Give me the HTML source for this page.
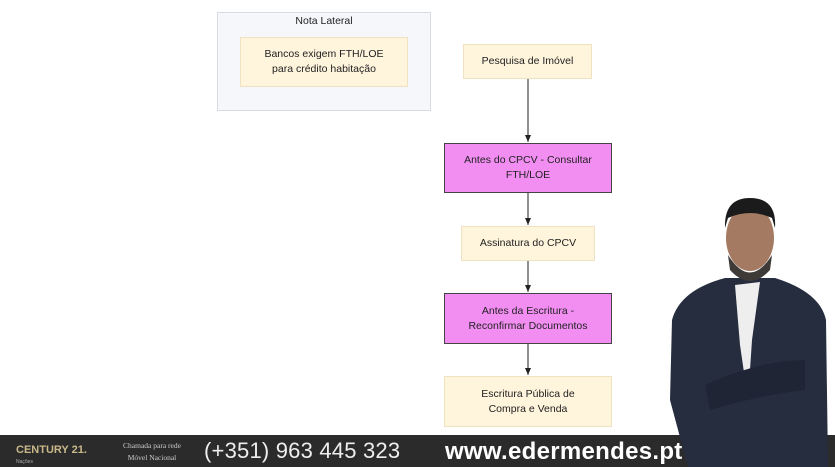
<!DOCTYPE html>
<html><head><meta charset="utf-8"><style>
body{margin:0;width:835px;height:467px;overflow:hidden;background:#fff;position:relative;font-family:"Liberation Sans",sans-serif}
.b{position:absolute;box-sizing:border-box;display:flex;align-items:center;justify-content:center;text-align:center;font-size:10.5px;color:#222;line-height:15px}
.y{background:#fff4dc;border:1px solid #f0e2c0}
.m{background:#f28ef2;border:1.5px solid #444}
</style></head><body>
<div class="b" style="left:217px;top:12px;width:214px;height:99px;background:#f6f7fb;border:1px solid #d8dbe4;align-items:flex-start;padding-top:1px">Nota Lateral</div>
<div class="b y" style="left:240px;top:37px;width:168px;height:50px">Bancos exigem FTH/LOE<br>para crédito habitação</div>
<div class="b y" style="left:463px;top:44px;width:129px;height:35px">Pesquisa de Imóvel</div>
<div class="b m" style="left:444px;top:143px;width:168px;height:50px">Antes do CPCV - Consultar<br>FTH/LOE</div>
<div class="b y" style="left:461px;top:226px;width:134px;height:35px">Assinatura do CPCV</div>
<div class="b m" style="left:444px;top:293px;width:168px;height:51px">Antes da Escritura -<br>Reconfirmar Documentos</div>
<div class="b y" style="left:444px;top:376px;width:168px;height:51px">Escritura Pública de<br>Compra e Venda</div>
<svg style="position:absolute;left:0;top:0" width="835" height="467">
<defs><marker id="a" markerWidth="8" markerHeight="8" refX="7" refY="4" orient="auto"><path d="M0,1 L7,4 L0,7z" fill="#222"/></marker></defs>
<g stroke="#222" stroke-width="1" marker-end="url(#a)">
<line x1="528" y1="79" x2="528" y2="142"/><line x1="528" y1="193" x2="528" y2="225"/>
<line x1="528" y1="261" x2="528" y2="292"/><line x1="528" y1="344" x2="528" y2="375"/></g>
<rect x="0" y="435" width="835" height="32" fill="#2b2b2b"/>
<text x="16" y="453" fill="#c9b98a" font-size="11" font-weight="bold">CENTURY 21.</text>
<text x="16" y="463" fill="#aaa" font-size="5">Nações</text>
<text x="152" y="448" fill="#ccc" font-size="7.5" text-anchor="middle" font-family="Liberation Serif">Chamada para rede</text>
<text x="152" y="460" fill="#ccc" font-size="7.5" text-anchor="middle" font-family="Liberation Serif">Móvel Nacional</text>
<text x="204" y="458" fill="#eee" font-size="22" letter-spacing="0.2">(+351) 963 445 323</text>
<path d="M688,467 L670,400 L672,320 Q680,290 725,278 L775,278 Q820,292 826,320 L828,467z" fill="#262d3f"/>
<path d="M735,285 L760,282 L752,340 L748,400 L740,345z" fill="#eeeeee"/>
<path d="M705,385 Q760,360 805,360 L805,390 Q760,395 710,410z" fill="#1f2535"/>
<ellipse cx="750" cy="238" rx="24" ry="33" fill="#a47a62"/>
<path d="M725,228 Q724,198 750,198 Q777,198 775,228 L772,218 Q750,208 728,218z" fill="#1b1b1b"/>
<path d="M728,255 Q750,290 772,255 L770,270 Q750,292 730,270z" fill="#3d3a38"/>
<text x="445" y="459" fill="#fff" font-size="24" font-weight="bold" letter-spacing="0.3">www.edermendes.pt</text>
</svg>
</body></html>
